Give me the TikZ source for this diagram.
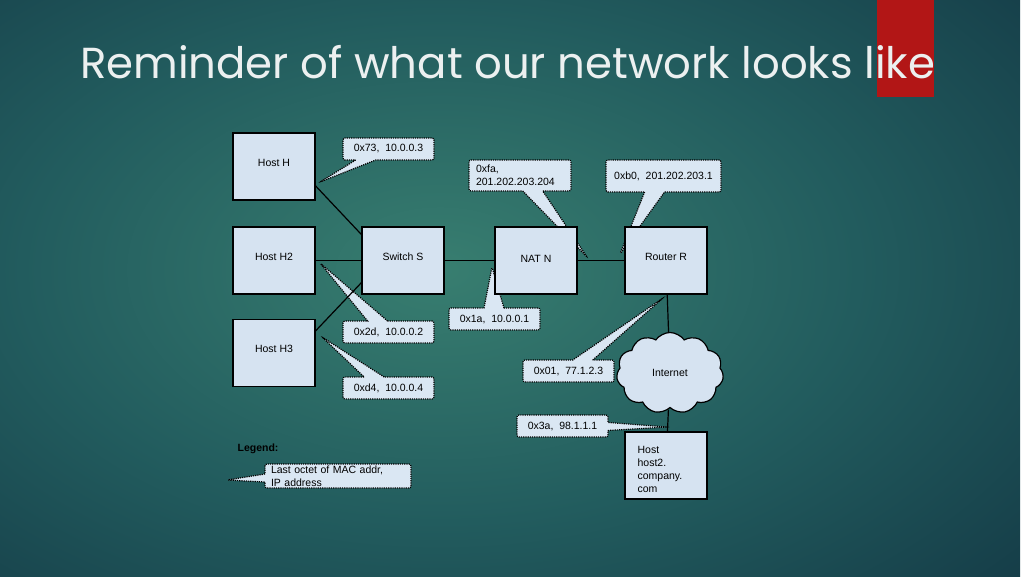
\documentclass[tikz,border=0pt]{standalone}
\usepackage{fontspec}
\setmainfont{Liberation Sans}
\newfontfamily\titlefont{Poppins}
\usetikzlibrary{shapes.callouts,shapes.symbols,calc}
\definecolor{bgin}{RGB}{56,126,112}
\definecolor{bgmid}{RGB}{34,92,94}
\definecolor{bgout}{RGB}{14,44,60}
\definecolor{bx}{RGB}{214,227,241}
\definecolor{cl}{RGB}{218,231,243}
\definecolor{redc}{RGB}{178,22,22}
\definecolor{tc}{RGB}{236,240,240}
\newcommand{\dfont}{\fontsize{10.5}{13}\selectfont}
\pgfdeclareradialshading{bgsh}{\pgfpoint{0bp}{0bp}}{color(0bp)=(bgin); color(18bp)=(bgmid); color(42bp)=(bgout); color(80bp)=(bgout)}
\tikzset{hostbox/.style={draw,line width=1.2pt,fill=bx,minimum width=82pt,minimum height=67pt,text depth=8pt,font=\dfont},
 tip/.style={rectangle callout,draw,densely dotted,line width=1.2pt,fill=cl,rounded corners=2pt,font=\dfont,
  minimum width=91pt,minimum height=22pt,inner xsep=6pt,callout pointer width=20pt},
 wire/.style={line width=1.2pt}}
\begin{document}
\begin{tikzpicture}[x=1pt,y=-1pt]
\useasboundingbox (0,0) rectangle (1024,576);
\begin{scope}
\clip (0,0) rectangle (1024,576);
\shade[shading=bgsh] (-140,-80) rectangle (1020,620);
\end{scope}
\fill[redc] (877,0) rectangle (934,97);
\node[anchor=base west,inner sep=0,text=tc,font=\titlefont\fontsize{43.4}{50}\selectfont] (title) at (80,78) {Reminder of what our network looks like};
% pointer tips
\coordinate (t1) at (320,182);\coordinate (t2) at (587,257);\coordinate (t3) at (620,254);
\coordinate (t4) at (492,267);\coordinate (t5) at (320,263);\coordinate (t6) at (322,337);
\coordinate (t7) at (663,298);\coordinate (t8) at (667,427);\coordinate (t9) at (227,480);
% address callouts
\node[tip,callout absolute pointer=(t1)] (c1) at (388.5,149) {0x73,~~10.0.0.3};
\node[tip,callout absolute pointer=(t2),align=left,text width=88pt,minimum height=31pt,inner xsep=7pt,inner ysep=2pt] (c2) at (520,175.5) {0xfa,\\201.202.203.204};
\node[tip,callout absolute pointer=(t3),minimum width=115pt,minimum height=32pt] (c3) at (663.5,176) {0xb0,~~201.202.203.1};
\node[tip,callout absolute pointer=(t4)] (c4) at (494.5,319) {0x1a,~~10.0.0.1};
\node[tip,callout absolute pointer=(t5)] (c5) at (388.5,332) {0x2d,~~10.0.0.2};
\node[tip,callout absolute pointer=(t6)] (c6) at (388.5,388) {0xd4,~~10.0.0.4};
\node[tip,callout absolute pointer=(t7)] (c7) at (568.5,371) {0x01,~~77.1.2.3};
\node[tip,callout absolute pointer=(t8),callout pointer width=8pt] (c8) at (562.5,426) {0x3a,~~98.1.1.1};
% hosts and boxes
\node[hostbox] (hh) at (274,166.5) {Host H};
\node[hostbox] (h2) at (274,260.5) {Host H2};
\node[hostbox] (h3) at (274,353) {Host H3};
\node[hostbox] (sw) at (403,260.5) {Switch S};
\node[hostbox,text depth=4pt] (nat) at (536,260.5) {NAT N};
\node[hostbox] (rtr) at (666,260.5) {Router R};
\node[draw,line width=1.2pt,fill=bx,cloud,cloud puffs=11,cloud puff arc=110,minimum width=107pt,minimum height=81pt,font=\dfont] (net) at (670,373) {Internet};
\node[hostbox,label={[font=\dfont,align=left,anchor=north west,xshift=13pt,yshift=-15pt,inner sep=0]north west:Host\\host2.\\company.\\com}] (srv) at (666,465.5) {};
\draw[wire] (hh.-25)--(sw.148);\draw[wire] (h2)--(sw);\draw[wire] (h3.28)--(sw.208);
\draw[wire] (sw)--(nat)--(rtr);\draw[wire] (rtr)--(net);\draw[wire] (net)--(srv);
% legend
\node[font=\dfont\bfseries] (leg) at (258,449) {Legend:};
\node[tip,callout absolute pointer=(t9),callout pointer width=8pt,align=left,text width=134pt,minimum height=24pt,inner ysep=0pt] (c9) at (338,476) {Last octet of MAC addr,\\IP address};
\end{tikzpicture}
\end{document}
